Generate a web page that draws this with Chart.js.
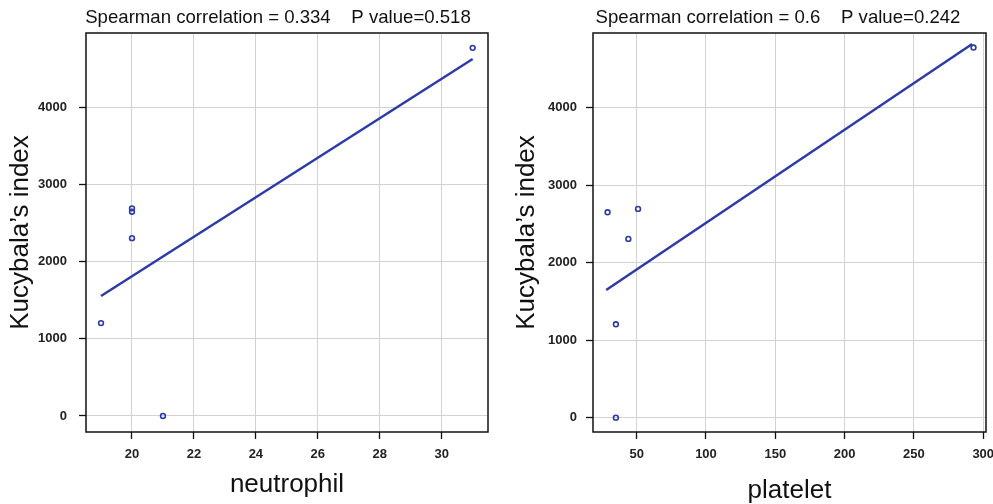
<!DOCTYPE html>
<html>
<head>
<meta charset="utf-8">
<script src="https://cdn.jsdelivr.net/npm/chart.js@4.4.1/dist/chart.umd.min.js"></script>
<style>
  html, body { margin: 0; padding: 0; background: #fff; }
  #wrap { position: relative; width: 993px; height: 504px; }
  .box { position: absolute; top: 0; height: 504px; }
</style>
</head>
<body>
<div id="wrap">
  <div class="box" style="left:0;width:496px"><canvas id="left"></canvas></div>
  <div class="box" style="left:496px;width:497px"><canvas id="right"></canvas></div>
</div>
<script>
// values
const kucybala   = [1205, 2307, 2650, 2694, 0, 4776];
const neutrophil = [19, 20, 20, 20, 21, 31];
const platelet   = [35, 44, 29, 51, 35, 293];

// fitted lines (end points as read)
const neutFitX = [19, 31];
const neutFitY = [1557, 4632];
const platFitX = [28, 292];
const platFitY = [1648, 4822];

const yTicks     = [0, 1000, 2000, 3000, 4000];
const neutTicks  = [20, 22, 24, 26, 28, 30];
const platTicks  = [50, 100, 150, 200, 250, 300];

const titleLeft  = 'Spearman correlation = 0.334    P value=0.518';
const titleRight = 'Spearman correlation = 0.6    P value=0.242';

const FONT = '"Liberation Sans", Arial, sans-serif';
const BLUE = '#2c3ba8';

function pairs(xs, ys) {
    return xs.map((x, i) => ({ x: x, y: ys[i] }));
}

// frame round the plot and the headline
const framePlugin = {
    id: 'frame',
    afterDraw(chart, args, opts) {
        const { ctx, chartArea: a } = chart;
        ctx.save();
        ctx.strokeStyle = '#111';
        ctx.lineWidth = 1.5;
        ctx.strokeRect(a.left, a.top, a.right - a.left, a.bottom - a.top);
        ctx.fillStyle = '#111';
        ctx.font = '18.6px ' + FONT;
        ctx.textAlign = 'center';
        ctx.textBaseline = 'middle';
        ctx.fillText(opts.text, opts.cx, 18);
        ctx.restore();
    }
};

function makeChart(id, cfg) {
    const ctx = document.getElementById(id).getContext('2d');
    return new Chart(ctx, {
        type: 'scatter',
        data: {
            datasets: [
                {
                    data: pairs(cfg.xs, kucybala),
                    borderColor: BLUE,
                    backgroundColor: 'rgba(255,255,255,0)',
                    pointRadius: 2.4,
                    borderWidth: 1.6,
                    showLine: false
                },
                {
                    data: pairs(cfg.fitX, cfg.fitY),
                    borderColor: BLUE,
                    borderWidth: 2.5,
                    pointRadius: 0,
                    showLine: true,
                    fill: false
                }
            ]
        },
        options: {
            responsive: true,
            maintainAspectRatio: false,
            animation: false,
            layout: { padding: { top: 33, right: cfg.padRight, left: 0, bottom: 0 } },
            plugins: {
                legend: { display: false },
                tooltip: { enabled: false },
                frame: { text: cfg.title, cx: cfg.titleX }
            },
            scales: {
                x: {
                    type: 'linear',
                    min: cfg.xMin,
                    max: cfg.xMax,
                    border: { display: false },
                    grid: { color: '#d2d2d2', lineWidth: 1, tickColor: '#111', tickLength: 7, tickWidth: 1.3 },
                    ticks: {
                        color: '#222', padding: 8, maxRotation: 0,
                        font: { family: FONT, size: 13, weight: 'bold' },
                        callback: v => String(v)
                    },
                    afterBuildTicks: s => { s.ticks = cfg.xTicks.map(v => ({ value: v })); },
                    afterFit: s => { s.height = 72; s.paddingLeft = 0; s.paddingRight = 0; },
                    title: {
                        display: true,
                        text: cfg.xTitle,
                        color: '#111',
                        font: { family: FONT, size: 26, lineHeight: 1 },
                        padding: { top: 0, bottom: cfg.xTitlePad }
                    }
                },
                y: {
                    type: 'linear',
                    min: cfg.yMin,
                    max: cfg.yMax,
                    border: { display: false },
                    grid: { color: '#d2d2d2', lineWidth: 1, tickColor: '#111', tickLength: 7, tickWidth: 1.3 },
                    ticks: {
                        color: '#222', padding: cfg.yTickPad,
                        font: { family: FONT, size: 13, weight: 'bold' },
                        callback: v => String(v)
                    },
                    afterBuildTicks: s => { s.ticks = yTicks.map(v => ({ value: v })); },
                    afterFit: s => { s.width = cfg.yWidth; s.paddingTop = 0; s.paddingBottom = 0; },
                    title: {
                        display: true,
                        text: "Kucybala’s index",
                        color: '#111',
                        font: { family: FONT, size: 26, lineHeight: 1 },
                        padding: { top: cfg.yTitlePad, bottom: 0 }
                    }
                }
            }
        },
        plugins: [framePlugin]
    });
}

makeChart('left', {
    xs: neutrophil, fitX: neutFitX, fitY: neutFitY,
    xMin: 18.515, xMax: 31.495, yMin: -208, yMax: 4969,
    xTicks: neutTicks, xTitle: 'neutrophil', xTitlePad: 6,
    yWidth: 86, yTickPad: 12, yTitlePad: 8, padRight: 8,
    title: titleLeft, titleX: 278
});

makeChart('right', {
    xs: platelet, fitX: platFitX, fitY: platFitY,
    xMin: 18.5, xMax: 302, yMin: -185, yMax: 4964,
    xTicks: platTicks, xTitle: 'platelet', xTitlePad: 0,
    yWidth: 97, yTickPad: 9, yTitlePad: 18, padRight: 7,
    title: titleRight, titleX: 282
});
</script>
</body>
</html>
